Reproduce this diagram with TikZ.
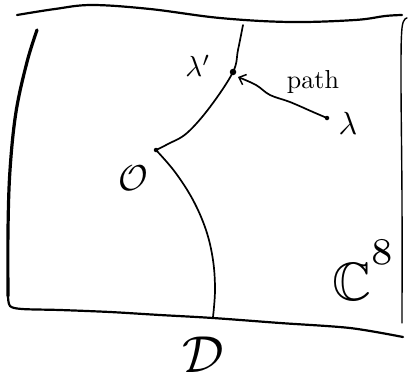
\documentclass[tikz,border=0pt]{standalone}
\usepackage{amssymb}
\usetikzlibrary{arrows.meta}
\begin{document}
\begin{tikzpicture}[x=1pt,y=-1pt,
  frame/.style={line width=2.2pt, line cap=round, line join=round},
  thinframe/.style={line width=1.4pt, line cap=round},
  curve/.style={line width=1.7pt, line cap=round},
  lbl/.style={inner sep=0pt},
  dotpt/.style={circle, fill, inner sep=0pt, minimum size=4.5pt}]
\useasboundingbox (0,0) rectangle (410,381);
% frame of the region
\draw[frame] plot[smooth, tension=0.6] coordinates {(17,15) (55,9) (92,5) (150,9) (220,18) (290,22) (355,20) (385,16) (402,15)};
\draw[frame, line width=3.2pt] plot[smooth, tension=0.6] coordinates {(37,30) (27,62) (16,112) (10,170) (8,230) (8,296)};
\draw[frame] plot[smooth, tension=0.5] coordinates {(8,296) (10,306) (22,309) (60,310) (110,312) (160,315) (213,318) (280,323) (350,328) (403,337)};
\draw[thinframe] plot[smooth, tension=0.6] coordinates {(407,18) (402,28) (401,80) (402,200) (402,323)};
% points
\coordinate (top) at (243,25);
\node[dotpt, minimum size=6.5pt] (lamp) at (233,72) {};
\node[dotpt] (orig) at (156,150) {};
\node[dotpt] (lam) at (327,118) {};
\coordinate (bot) at (213,317);
% curves
\draw[curve] plot[smooth, tension=0.6] coordinates {(top) (238,50) (lamp) (210,107) (187,133) (168,144) (orig)};
\draw[curve] plot[smooth, tension=0.6] coordinates {(orig) (175,172) (193,200) (206,230) (213,260) (215,290) (bot)};
% path arrow
\draw[curve, -{Straight Barb[length=6pt,width=11pt,line width=1.5pt]}] plot[smooth, tension=0.6] coordinates {(lam) (313,112) (290,102) (270,95) (256,85) (238,77)};
% labels
\node[lbl, scale=2.9] (lplab) at (198,66) {$\lambda'$};
\node[lbl, scale=2.6] (pathlab) at (313,82) {path};
\node[lbl, scale=3.2] (llab) at (348,123) {$\lambda$};
\node[lbl, scale=3.6] (olab) at (133,178) {$\mathcal{O}$};
\node[lbl, scale=5.4, anchor=base west] (clab) at (331,300) {$\mathbb{C}^{\raisebox{3pt}{$\scriptstyle 8$}}$};
\node[lbl, scale=5.2] (dlab) at (203,355) {$\mathcal{D}$};
\end{tikzpicture}
\end{document}
